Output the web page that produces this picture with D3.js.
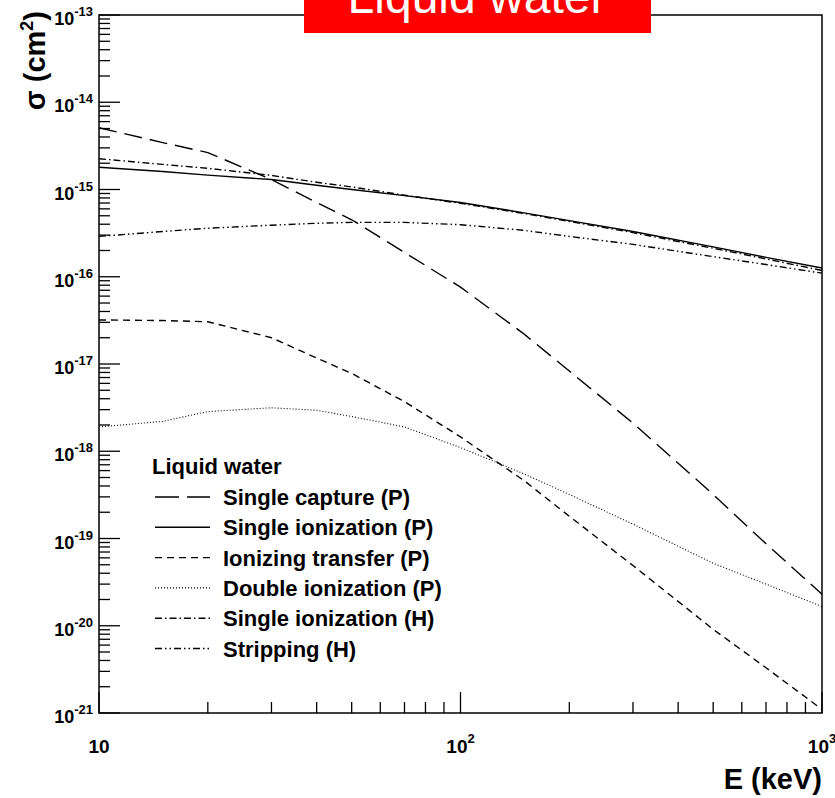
<!DOCTYPE html>
<html>
<head>
<meta charset="utf-8">
<script src="https://cdn.jsdelivr.net/npm/d3@7"></script>
<style>
  body { margin: 0; background: #fff; }
  svg { display: block; }
  text { font-family: "Liberation Sans", Arial, sans-serif; }
</style>
</head>
<body>
<div id="chart"></div>
<script>
// energies (keV) shared by all curves
var energies = [10, 15, 20, 30, 40, 50, 70, 100, 150, 200, 300, 500, 700, 1000];

// cross sections (cm2)
var singleCaptureP = [5.1e-15, 3.45e-15, 2.65e-15, 1.3e-15, 7.1e-16, 4.5e-16, 1.9e-16, 7.6e-17, 2.2e-17, 8.3e-18, 2.1e-18, 3.2e-19, 8.7e-20, 2.3e-20];
var singleIonP = [1.8e-15, 1.61e-15, 1.46e-15, 1.3e-15, 1.12e-15, 1.0e-15, 8.5e-16, 7.1e-16, 5.4e-16, 4.4e-16, 3.3e-16, 2.2e-16, 1.67e-16, 1.26e-16];
var ionTransferP = [3.2e-17, 3.15e-17, 3.05e-17, 2.0e-17, 1.17e-17, 7.8e-18, 3.7e-18, 1.46e-18, 4.6e-19, 1.8e-19, 4.9e-20, 9.1e-21, 3.3e-21, 1.1e-21];
var doubleIonP = [1.9e-18, 2.2e-18, 2.85e-18, 3.15e-18, 2.95e-18, 2.5e-18, 1.9e-18, 1.1e-18, 5.5e-19, 3.2e-19, 1.46e-19, 5.2e-20, 3.0e-20, 1.66e-20];
var singleIonH = [2.25e-15, 1.94e-15, 1.75e-15, 1.45e-15, 1.21e-15, 1.07e-15, 8.6e-16, 6.95e-16, 5.3e-16, 4.3e-16, 3.2e-16, 2.12e-16, 1.6e-16, 1.18e-16];
var strippingH = [2.9e-16, 3.3e-16, 3.6e-16, 3.9e-16, 4.1e-16, 4.2e-16, 4.2e-16, 3.95e-16, 3.4e-16, 2.9e-16, 2.35e-16, 1.7e-16, 1.38e-16, 1.1e-16];

var seriesNames = ["Single capture (P)", "Single ionization (P)", "Ionizing transfer (P)",
                   "Double ionization (P)", "Single ionization (H)", "Stripping (H)"];
var seriesValues = [singleCaptureP, singleIonP, ionTransferP, doubleIonP, singleIonH, strippingH];
var dashes = ["18 8", null, "7 5", "1 2", "7 3 1.5 3", "7 3 1.5 3 1.5 3"];
var legendDashes = ["24 8", null, "7 5", "1 2", "7 3 1.5 3", "7 3 1.5 3 1.5 3"];

var legendTitle = "Liquid water";
var bannerText = "Liquid water";

var width = 835, height = 798;
var margin = { top: 15, right: 13, bottom: 85, left: 99 };
var plotW = width - margin.left - margin.right,
    plotH = height - margin.top - margin.bottom;

var x = d3.scaleLog().domain([10, 1000]).range([margin.left, margin.left + plotW]);
var y = d3.scaleLog().domain([1e-21, 1e-13]).range([margin.top + plotH, margin.top]);

var svg = d3.select("#chart").append("svg")
    .attr("width", width)
    .attr("height", height);

function isDecade(v) {
    var l = Math.log10(v);
    return Math.abs(l - Math.round(l)) < 1e-6;
}

// curves
var line = d3.line()
    .x(function (d) { return x(d[0]); })
    .y(function (d) { return y(d[1]); });

seriesValues.forEach(function (vals, i) {
    var pts = energies.map(function (e, j) { return [e, vals[j]]; });
    svg.append("path")
        .attr("d", line(pts))
        .attr("fill", "none")
        .attr("stroke", "#000")
        .attr("stroke-width", i == 3 ? 1.1 : 1.4)
        .attr("stroke-dasharray", dashes[i]);
});

// frame
svg.append("rect")
    .attr("x", margin.left).attr("y", margin.top)
    .attr("width", plotW).attr("height", plotH)
    .attr("fill", "none").attr("stroke", "#000").attr("stroke-width", 1.5);

// y ticks (inside, on left only)
var yTicks = y.ticks();
svg.append("g").selectAll("line")
    .data(yTicks)
    .enter().append("line")
    .attr("x1", margin.left)
    .attr("x2", function (d) { return margin.left + (isDecade(d) ? 21 : 11); })
    .attr("y1", function (d) { return y(d); })
    .attr("y2", function (d) { return y(d); })
    .attr("stroke", "#000").attr("stroke-width", 1.3);

var yLab = svg.append("g").selectAll("text")
    .data(yTicks.filter(isDecade))
    .enter().append("text")
    .attr("x", 93)
    .attr("y", function (d) { return y(d) + 10; })
    .attr("text-anchor", "end")
    .attr("font-weight", "bold");
yLab.append("tspan").attr("font-size", 18).text("10");
yLab.append("tspan").attr("font-size", 13).attr("dy", -9)
    .text(function (d) { return "-" + Math.round(-Math.log10(d)); });

// x ticks (inside, on bottom only)
var xTicks = x.ticks();
svg.append("g").selectAll("line")
    .data(xTicks)
    .enter().append("line")
    .attr("x1", function (d) { return x(d); })
    .attr("x2", function (d) { return x(d); })
    .attr("y1", margin.top + plotH)
    .attr("y2", function (d) { return margin.top + plotH - (isDecade(d) ? 21 : 11); })
    .attr("stroke", "#000").attr("stroke-width", 1.3);

var xLab = svg.append("g").selectAll("text")
    .data(xTicks.filter(isDecade))
    .enter().append("text")
    .attr("x", function (d) { return x(d); })
    .attr("y", 753)
    .attr("text-anchor", "middle")
    .attr("font-weight", "bold");
xLab.append("tspan").attr("font-size", 19).text("10");
xLab.append("tspan").attr("font-size", 13).attr("dy", -10)
    .text(function (d) { var p = Math.round(Math.log10(d)); return p == 1 ? "" : p; });

// axis titles
svg.append("text")
    .attr("x", 822).attr("y", 789)
    .attr("text-anchor", "end")
    .attr("font-weight", "bold").attr("font-size", 29)
    .text("E (keV)");

var yt = svg.append("text")
    .attr("transform", "translate(45,11) rotate(-90)")
    .attr("text-anchor", "end")
    .attr("font-weight", "bold").attr("font-size", 29);
yt.append("tspan").text("\u03c3 (cm");
yt.append("tspan").attr("font-size", 18).attr("dy", -12).text("2");
yt.append("tspan").attr("dy", 12).text(")");

// legend
svg.append("text")
    .attr("x", 152).attr("y", 474)
    .attr("font-weight", "bold").attr("font-size", 22)
    .text(legendTitle);

seriesNames.forEach(function (name, i) {
    var by = 505 + i * 30.3;
    svg.append("line")
        .attr("x1", 155).attr("x2", 210)
        .attr("y1", by - 8).attr("y2", by - 8)
        .attr("stroke", "#000")
        .attr("stroke-width", i == 3 ? 1.1 : 1.4)
        .attr("stroke-dasharray", legendDashes[i]);
    svg.append("text")
        .attr("x", 223).attr("y", by)
        .attr("font-weight", "bold").attr("font-size", 22)
        .text(name);
});

// red banner at top (its text runs off the top edge, as in the source)
svg.append("rect")
    .attr("x", 304).attr("y", 0)
    .attr("width", 347).attr("height", 33)
    .attr("fill", "#ff0000");
svg.append("text")
    .attr("x", 477).attr("y", 13)
    .attr("text-anchor", "middle")
    .attr("fill", "#fff")
    .attr("font-family", "DejaVu Sans")
    .attr("font-size", 48)
    .text(bannerText);
</script>
</body>
</html>
